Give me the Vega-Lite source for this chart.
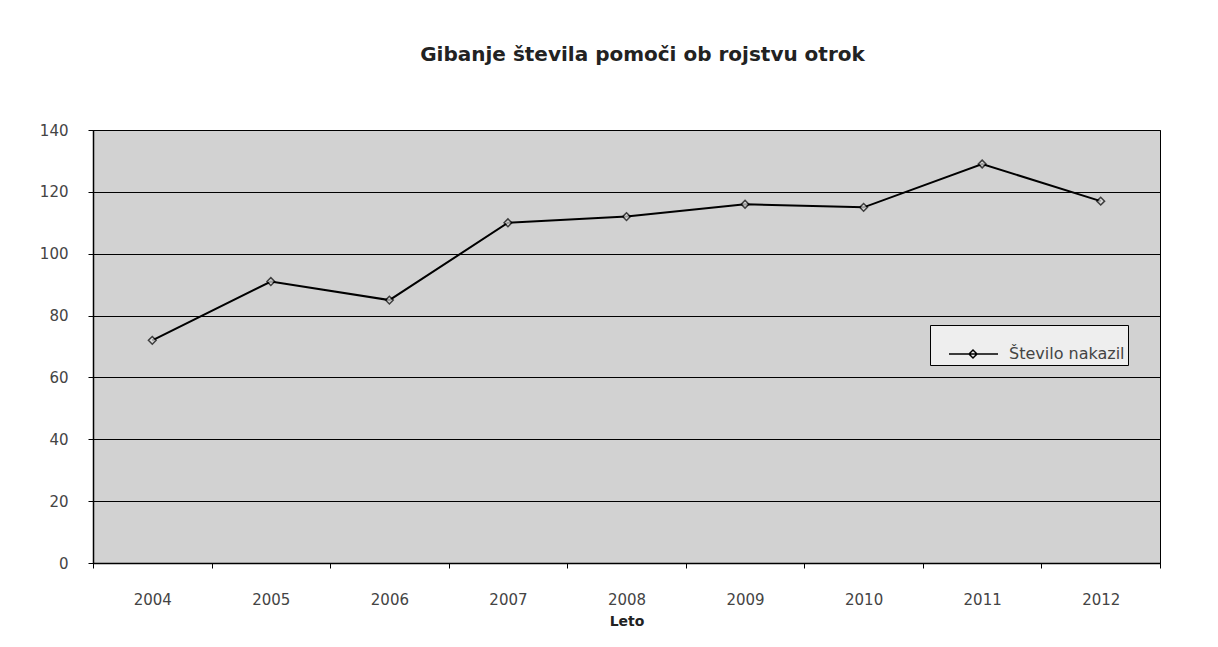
{
  "$schema": "https://vega.github.io/schema/vega-lite/v6.json",
  "width": 1067,
  "height": 433,
  "autosize": {"type": "none"},
  "padding": {"left": 93, "top": 130, "right": 58, "bottom": 84},
  "background": "white",
  "title": {
    "text": "Gibanje števila pomoči ob rojstvu otrok",
    "font": "DejaVu Sans",
    "fontSize": 20,
    "fontWeight": "bold",
    "color": "#222222",
    "anchor": "middle",
    "dx": 16,
    "offset": 58
  },
  "config": {
    "view": {"fill": "#d2d2d2", "stroke": "black", "strokeWidth": 1},
    "font": "DejaVu Sans"
  },
  "data": {
    "values": [
      {"leto": "2004", "vrednost": 72, "serija": "Število nakazil"},
      {"leto": "2005", "vrednost": 91, "serija": "Število nakazil"},
      {"leto": "2006", "vrednost": 85, "serija": "Število nakazil"},
      {"leto": "2007", "vrednost": 110, "serija": "Število nakazil"},
      {"leto": "2008", "vrednost": 112, "serija": "Število nakazil"},
      {"leto": "2009", "vrednost": 116, "serija": "Število nakazil"},
      {"leto": "2010", "vrednost": 115, "serija": "Število nakazil"},
      {"leto": "2011", "vrednost": 129, "serija": "Število nakazil"},
      {"leto": "2012", "vrednost": 117, "serija": "Število nakazil"}
    ]
  },
  "encoding": {
    "x": {
      "field": "leto",
      "type": "ordinal",
      "bandPosition": 0.5,
      "scale": {"type": "band", "paddingInner": 0, "paddingOuter": 0},
      "axis": {
        "title": "Leto",
        "titleFont": "DejaVu Sans",
        "titleFontSize": 14,
        "titleFontWeight": "bold",
        "titleColor": "#222222",
        "titlePadding": 7,
        "labelAngle": 0,
        "labelFont": "DejaVu Sans",
        "labelFontSize": 15,
        "labelColor": "#444444",
        "labelPadding": 24,
        "tickBand": "extent",
        "tickColor": "black",
        "tickSize": 5,
        "domainColor": "black",
        "domainWidth": 1.5,
        "grid": false
      }
    },
    "y": {
      "field": "vrednost",
      "type": "quantitative",
      "scale": {"domain": [0, 140], "nice": false},
      "axis": {
        "title": null,
        "values": [0, 20, 40, 60, 80, 100, 120, 140],
        "labelFont": "DejaVu Sans",
        "labelFontSize": 15,
        "labelColor": "#444444",
        "labelPadding": 20,
        "tickColor": "black",
        "tickSize": 5,
        "domainColor": "black",
        "domainWidth": 1.5,
        "grid": true,
        "gridColor": "black",
        "gridWidth": 1.2,
        "gridOpacity": 1
      }
    }
  },
  "layer": [
    {
      "mark": {"type": "line", "color": "black", "strokeWidth": 2},
      "encoding": {
        "color": {
          "field": "serija",
          "type": "nominal",
          "scale": {"range": ["black"]},
          "legend": {
            "title": null,
            "orient": "none",
            "legendX": 837,
            "legendY": 195,
            "direction": "vertical",
            "symbolType": "M-0.84,0L1.12,0M-0.04,0L0.12,-0.16L0.28,0L0.12,0.16Z",
            "symbolSize": 2500,
            "symbolOffset": 11,
            "symbolStrokeWidth": 1.5,
            "symbolStrokeColor": "black",
            "labelFont": "DejaVu Sans",
            "labelFontSize": 16,
            "labelColor": "#444444",
            "labelOffset": 13,
            "fillColor": "#eeeeee",
            "strokeColor": "black",
            "padding": 3,
            "offset": 0
          }
        }
      }
    },
    {
      "mark": {"type": "point", "shape": "diamond", "filled": false, "color": "black", "size": 60, "strokeWidth": 1.5, "fill": "#dddddd"},
      "encoding": {}
    }
  ]
}
